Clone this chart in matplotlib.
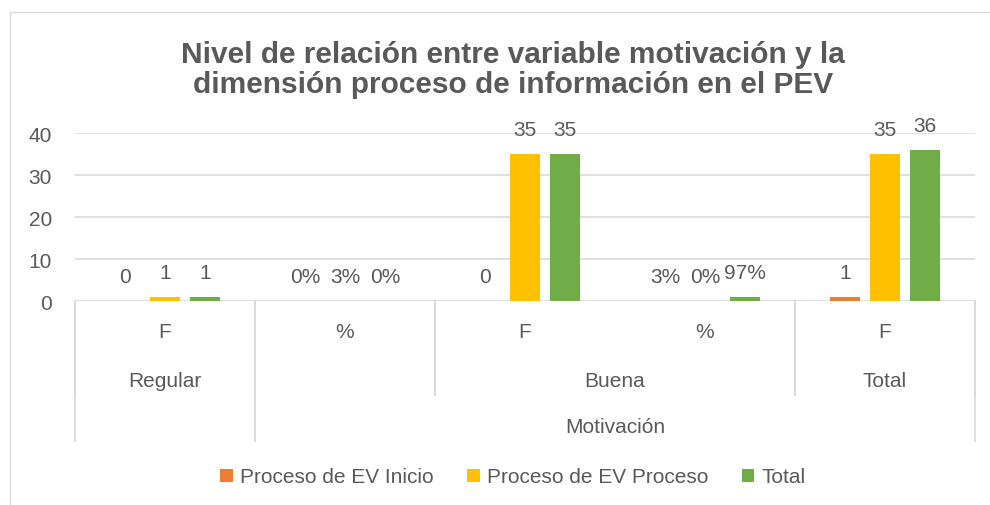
import matplotlib
matplotlib.use("Agg")
import matplotlib.pyplot as plt
import matplotlib.transforms as mtransforms
from matplotlib.lines import Line2D
from matplotlib.patches import Patch

plt.rcParams["font.family"] = ["Liberation Sans", "DejaVu Sans"]

# ---- data ----
title = "Nivel de relación entre variable motivación y la\ndimensión proceso de información en el PEV"
level1 = ["F", "%", "F", "%", "F"]
level2 = [("Regular", 0, 0), ("", 1, 1), ("Buena", 2, 3), ("Total", 4, 4)]
level3 = [("", 0, 0), ("Motivación", 1, 4)]
series_names = ["Proceso de EV Inicio", "Proceso de EV Proceso", "Total"]
inicio = [0, 0, 0, 0.03, 1]
proceso = [1, 0.03, 35, 0, 35]
total = [1, 0, 35, 0.97, 36]
yticks = [0, 10, 20, 30, 40]

colors = ["#ED7D31", "#FFC000", "#70AD47"]
txt = "#595959"
grid = "#D9D9D9"
fs = 15

W, H = 990, 506
fig = plt.figure(figsize=(W / 100, H / 100), dpi=100)

# outer chart border (left + top visible)
fig.add_artist(Line2D([10 / W, 10 / W, 1.0], [0, 1 - 13 / H, 1 - 13 / H],
                      transform=fig.transFigure, color=grid, lw=1))

x0, x1, y0, y1 = 75, 975, 302, 134
ax = fig.add_axes([x0 / W, 1 - y0 / H, (x1 - x0) / W, (y0 - y1) / H])
ax.set_xlim(-0.5, 4.5)
ax.set_ylim(0, 40)
for s in ax.spines.values():
    s.set_visible(False)
ax.set_yticks(yticks)
ax.set_yticklabels([str(t) for t in yticks], color=txt, fontsize=fs)
ax.tick_params(axis="y", length=0, pad=16.5)
ax.set_xticks([])
for t in yticks[1:]:
    ax.axhline(t, color=grid, lw=1.2, zorder=0)
ax.axhline(0, color=grid, lw=1.2, zorder=1)

bw = 1 / 6
step = 2 / 9
for k, (vals, c) in enumerate(zip([inicio, proceso, total], colors)):
    xs = [i + (k - 1) * step for i in range(len(vals))]
    ax.bar(xs, vals, width=bw, color=c, zorder=2)
    for i, (x, v) in enumerate(zip(xs, vals)):
        lab = f"{v:.0%}" if level1[i] == "%" else f"{v:g}"
        ax.annotate(lab, (x, v), xytext=(0, 17.3), textcoords="offset points",
                    ha="center", va="center", fontsize=fs, color=txt)

# multi-level category axis
tr = mtransforms.blended_transform_factory(ax.transData, fig.transFigure)
fy = lambda py: 1 - py / H
for i, lab in enumerate(level1):
    ax.text(i, fy(333), lab, transform=tr, ha="center", va="center",
            fontsize=fs, color=txt)
for lab, a, b in level2:
    ax.text((a + b) / 2, fy(382), lab, transform=tr, ha="center", va="center",
            fontsize=fs, color=txt)
    for e in (a - 0.5, b + 0.5):
        ax.add_line(Line2D([e, e], [fy(302), fy(396)], transform=tr,
                           color=grid, lw=1.2, clip_on=False))
for lab, a, b in level3:
    ax.text((a + b) / 2, fy(428), lab, transform=tr, ha="center", va="center",
            fontsize=fs, color=txt)
    for e in (a - 0.5, b + 0.5):
        ax.add_line(Line2D([e, e], [fy(302), fy(442)], transform=tr,
                           color=grid, lw=1.2, clip_on=False))

fig.text(513 / W, fy(70), title, ha="center", va="center", fontsize=21.5,
         fontweight="bold", color=txt, linespacing=1.1)

handles = [Patch(facecolor=c, edgecolor="none") for c in colors]
fig.legend(handles, series_names, loc="center", bbox_to_anchor=(513 / W, fy(478)),
           ncol=3, frameon=False, fontsize=fs, handlelength=0.6, handleheight=0.6,
           handletextpad=0.35, columnspacing=1.6, labelcolor=txt)

fig.savefig("out.png", dpi=100)
